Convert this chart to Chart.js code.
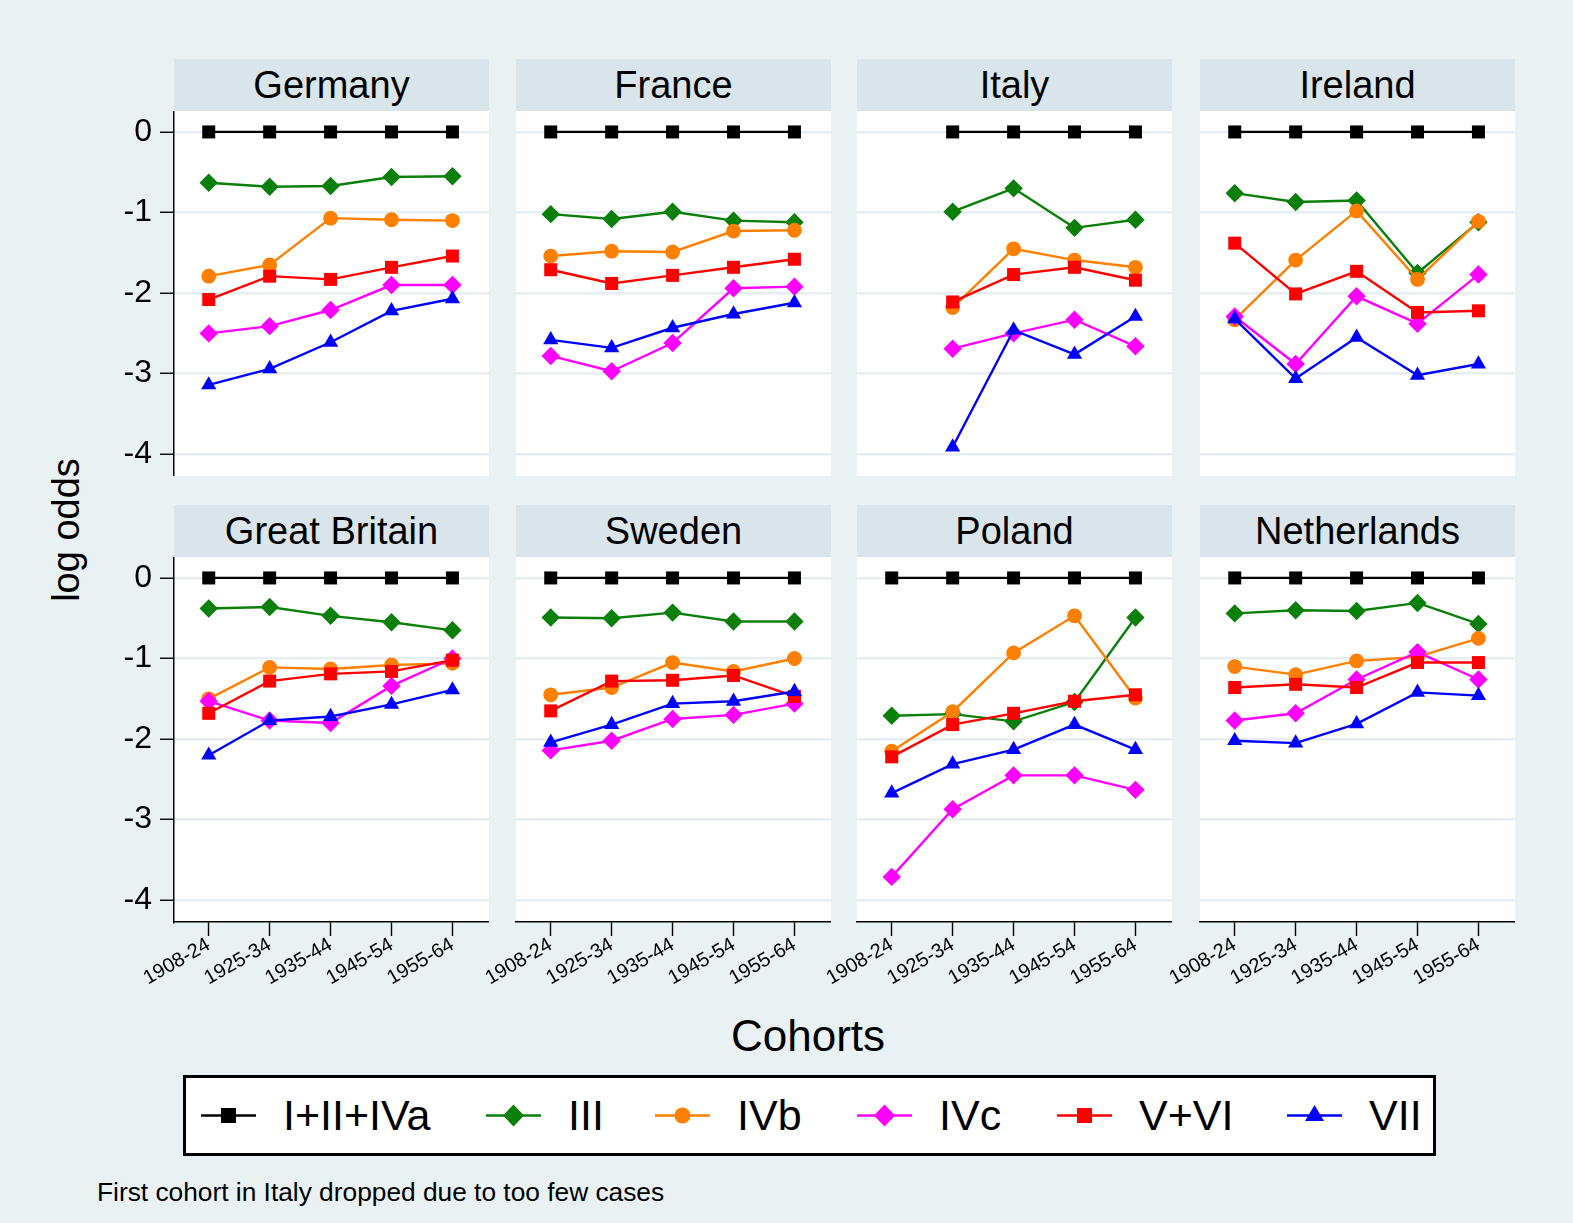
<!DOCTYPE html>
<html>
<head>
<meta charset="utf-8">
<title>log odds by cohort</title>
<script src="https://cdn.jsdelivr.net/npm/chart.js@4/dist/chart.umd.min.js"></script>
<style>
  html, body { margin: 0; padding: 0; background: #e9f1f3; }
  #page { position: relative; width: 1573px; height: 1223px; overflow: hidden;
          font-family: "Liberation Sans", Arial, Helvetica, sans-serif; color: #000; }
  .strip { position: absolute; height: 52px; width: 315px; background: #d9e5ea;
           font-size: 38px; display: flex; align-items: center; justify-content: center; }
  canvas { position: absolute; }
  #ytitle { position: absolute; left: 66px; top: 530px; font-size: 38px; white-space: nowrap;
            transform: translate(-50%, -50%) rotate(-90deg); }
  #xtitle { position: absolute; left: 808px; top: 1036px; font-size: 44px; white-space: nowrap;
            transform: translate(-50%, -50%); }
  #legend { position: absolute; left: 183px; top: 1075px; width: 1247px; height: 75px;
            border: 3px solid #000; background: #fff; }
  .litem { position: absolute; top: 0; height: 75px; display: flex; align-items: center; }
  .litem span { font-size: 43px; margin-left: 27px; }
  #note { position: absolute; left: 97px; top: 1192px; font-size: 26.3px; white-space: nowrap;
          transform: translateY(-50%); }
</style>
</head>
<body>
<div id="page">
  <div id="ytitle">log odds</div>
  <div id="xtitle">Cohorts</div>
  <div id="legend"></div>
  <div id="note">First cohort in Italy dropped due to too few cases</div>
</div>
<script>
// Birth cohorts on the x axis
const cohorts = ['1908-24', '1925-34', '1935-44', '1945-54', '1955-64'];
// Class categories (reference category first)
const classes = ['I+II+IVa', 'III', 'IVb', 'IVc', 'V+VI', 'VII'];
const yTicks = [0, -1, -2, -3, -4];

// Log odds per class, one row per class in the order above
const germany = [
  [0, 0, 0, 0, 0],
  [-0.63, -0.68, -0.67, -0.56, -0.55],
  [-1.79, -1.65, -1.07, -1.09, -1.10],
  [-2.50, -2.41, -2.21, -1.90, -1.90],
  [-2.08, -1.79, -1.83, -1.68, -1.54],
  [-3.14, -2.94, -2.61, -2.22, -2.07]
];
const france = [
  [0, 0, 0, 0, 0],
  [-1.02, -1.08, -0.99, -1.10, -1.12],
  [-1.54, -1.48, -1.49, -1.23, -1.22],
  [-2.78, -2.97, -2.62, -1.94, -1.92],
  [-1.71, -1.88, -1.78, -1.68, -1.58],
  [-2.58, -2.68, -2.43, -2.26, -2.12]
];
const italy = [
  [null, 0, 0, 0, 0],
  [null, -0.99, -0.70, -1.19, -1.09],
  [null, -2.18, -1.45, -1.59, -1.68],
  [null, -2.69, -2.50, -2.33, -2.66],
  [null, -2.11, -1.77, -1.68, -1.84],
  [null, -3.91, -2.46, -2.76, -2.29]
];
const ireland = [
  [0, 0, 0, 0, 0],
  [-0.76, -0.87, -0.85, -1.75, -1.12],
  [-2.33, -1.59, -0.98, -1.83, -1.11],
  [-2.29, -2.88, -2.04, -2.38, -1.77],
  [-1.38, -2.01, -1.73, -2.24, -2.22],
  [-2.32, -3.06, -2.55, -3.02, -2.88]
];
const greatBritain = [
  [0, 0, 0, 0, 0],
  [-0.38, -0.36, -0.47, -0.55, -0.65],
  [-1.50, -1.11, -1.13, -1.08, -1.06],
  [-1.53, -1.77, -1.80, -1.34, -1.00],
  [-1.68, -1.28, -1.19, -1.16, -1.02],
  [-2.20, -1.77, -1.72, -1.57, -1.39]
];
const sweden = [
  [0, 0, 0, 0, 0],
  [-0.49, -0.50, -0.43, -0.54, -0.54],
  [-1.45, -1.36, -1.05, -1.16, -1.00],
  [-2.14, -2.02, -1.75, -1.70, -1.56],
  [-1.65, -1.28, -1.27, -1.21, -1.47],
  [-2.04, -1.82, -1.56, -1.53, -1.41]
];
const poland = [
  [0, 0, 0, 0, 0],
  [-1.71, -1.69, -1.78, -1.54, -0.49],
  [-2.15, -1.66, -0.93, -0.47, -1.49],
  [-3.71, -2.87, -2.45, -2.45, -2.63],
  [-2.22, -1.82, -1.68, -1.53, -1.45],
  [-2.67, -2.31, -2.13, -1.82, -2.13]
];
const netherlands = [
  [0, 0, 0, 0, 0],
  [-0.44, -0.40, -0.41, -0.31, -0.57],
  [-1.10, -1.20, -1.03, -0.98, -0.75],
  [-1.77, -1.68, -1.26, -0.92, -1.26],
  [-1.36, -1.32, -1.36, -1.05, -1.05],
  [-2.02, -2.05, -1.81, -1.42, -1.46]
];

const countryNames = ['Germany', 'France', 'Italy', 'Ireland', 'Great Britain', 'Sweden', 'Poland', 'Netherlands'];
const countryData = [germany, france, italy, ireland, greatBritain, sweden, poland, netherlands];

// Series styling
const colors = ['#000000', '#0a7f0a', '#ff8000', '#ff00ff', '#ff0000', '#0000ff'];
const markers = ['rect', 'rectRot', 'circle', 'rectRot', 'rect', 'triangle'];
const markerRadius = [9.2, 9.2, 7.4, 9.2, 9.2, 8.8];

// Panel geometry
const FONT = '"Liberation Sans", Arial, Helvetica, sans-serif';
const colLeft = [174, 516, 857, 1200];
const panelW = 315;
const rows = [
  { strip: 59, plotTop: 111, plotBottom: 476, axis: false },
  { strip: 505, plotTop: 557, plotBottom: 922, axis: true }
];
const Y_AXIS_W = 74;
const X_AXIS_H = 80;

const page = document.getElementById('page');

// White plot region behind the data
const plotFill = {
  id: 'plotFill',
  beforeDraw(chart) {
    const { ctx, chartArea: a } = chart;
    ctx.save();
    ctx.fillStyle = '#ffffff';
    ctx.fillRect(a.left, a.top, a.right - a.left, a.bottom - a.top);
    ctx.restore();
  }
};

function noScalePadding(s) {
  s.paddingLeft = 0; s.paddingRight = 0; s.paddingTop = 0; s.paddingBottom = 0;
}

countryNames.forEach((name, k) => {
  const r = rows[Math.floor(k / 4)];
  const c = k % 4;
  const left = colLeft[c];
  const showY = c === 0;

  const strip = document.createElement('div');
  strip.className = 'strip';
  strip.style.left = left + 'px';
  strip.style.top = r.strip + 'px';
  strip.textContent = name;
  page.appendChild(strip);

  const cv = document.createElement('canvas');
  const cx = left - Y_AXIS_W;
  const cw = panelW + Y_AXIS_W;
  const ch = (r.plotBottom - r.plotTop) + (r.axis ? X_AXIS_H : 0);
  cv.width = cw; cv.height = ch;
  cv.style.left = cx + 'px';
  cv.style.top = r.plotTop + 'px';
  cv.style.width = cw + 'px';
  cv.style.height = ch + 'px';
  page.appendChild(cv);

  const rowsData = countryData[k];
  const datasets = classes.map((cls, i) => ({
    label: cls,
    data: rowsData[i].map((v, j) => ({ x: j, y: v })),
    borderColor: colors[i],
    backgroundColor: colors[i],
    pointBackgroundColor: colors[i],
    pointBorderColor: colors[i],
    pointBorderWidth: 0,
    borderWidth: i === 0 ? 2.3 : 2.4,
    pointStyle: markers[i],
    pointRadius: markerRadius[i],
    pointHoverRadius: markerRadius[i],
    spanGaps: false,
    tension: 0,
    order: classes.length - i
  }));

  new Chart(cv, {
    type: 'line',
    data: { datasets },
    plugins: [plotFill],
    options: {
      responsive: false,
      devicePixelRatio: 1,
      animation: false,
      events: [],
      layout: { padding: 0, autoPadding: false },
      plugins: { legend: { display: false }, tooltip: { enabled: false }, title: { display: false } },
      scales: {
        x: {
          type: 'linear',
          min: -0.57,
          max: 4.6,
          display: r.axis,
          afterBuildTicks: s => { s.ticks = cohorts.map((_, i) => ({ value: i })); },
          afterFit: s => { s.height = r.axis ? X_AXIS_H : 0; noScalePadding(s); },
          grid: { drawOnChartArea: false, drawTicks: true, tickLength: 14, tickColor: '#000', tickWidth: 1.4 },
          border: { display: true, color: '#000', width: 1.5 },
          ticks: {
            autoSkip: false, minRotation: 30, maxRotation: 30, padding: -3,
            color: '#000', font: { family: FONT, size: 20 },
            callback: v => cohorts[v]
          }
        },
        y: {
          type: 'linear',
          min: -4.27,
          max: 0.26,
          afterBuildTicks: s => { s.ticks = yTicks.map(v => ({ value: v })); },
          afterFit: s => { s.width = Y_AXIS_W; noScalePadding(s); },
          grid: {
            color: '#e6eef1', lineWidth: 2.5,
            drawTicks: showY, tickLength: 14, tickColor: '#000', tickWidth: 1.4
          },
          border: { display: showY, color: '#000', width: 1.5 },
          ticks: {
            display: showY, padding: 8, color: '#000',
            font: { family: FONT, size: 32 },
            callback: v => String(v)
          }
        }
      }
    }
  });
});

// Legend: sample line with marker, then the class name
const legendLineX = [201, 486, 655, 857, 1057, 1287];
const legendMarker = {
  rect: (col) => `<rect x="20" y="8" width="15" height="15" fill="${col}"/>`,
  rectRot: (col) => `<polygon points="27.5,4.5 38,15.5 27.5,26.5 17,15.5" fill="${col}"/>`,
  circle: (col) => `<circle cx="27.5" cy="15.5" r="8" fill="${col}"/>`,
  triangle: (col) => `<polygon points="27.5,5 37,21 18,21" fill="${col}"/>`
};
const legend = document.getElementById('legend');
classes.forEach((cls, i) => {
  const item = document.createElement('div');
  item.className = 'litem';
  item.style.left = (legendLineX[i] - 186) + 'px';
  item.innerHTML =
    `<svg width="55" height="31" viewBox="0 0 55 31">` +
    `<line x1="0" y1="15.5" x2="55" y2="15.5" stroke="${colors[i]}" stroke-width="2.5"/>` +
    legendMarker[markers[i]](colors[i]) + `</svg><span>${cls}</span>`;
  legend.appendChild(item);
});
</script>
</body>
</html>
